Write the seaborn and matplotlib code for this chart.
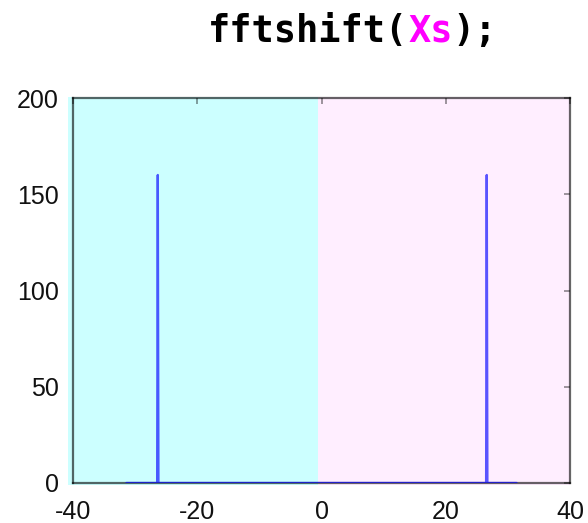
import numpy as np
import pandas as pd
import matplotlib
matplotlib.use("Agg")
import matplotlib.pyplot as plt
import seaborn as sns
from matplotlib.patches import Rectangle

# ---- data ----
freq = [-31.4, -26.45, -26.35, -26.25, 26.5, 26.6, 26.7, 31.4]
magnitude = [0, 0, 160, 0, 0, 160, 0, 0]
xticks = [-40, -20, 0, 20, 40]
yticks = [0, 50, 100, 150, 200]
title_parts = ["fftshift(", "Xs", ");"]
title_colors = ["black", "#ff00ff", "black"]

sns.set_style("white")
plt.rcParams['font.family'] = ['Liberation Sans', 'DejaVu Sans']
plt.rcParams['axes.unicode_minus'] = False

df = pd.DataFrame({"f": freq, "mag": magnitude})

fig = plt.figure(figsize=(5.88, 5.23), dpi=100)
ax = fig.add_axes([73/588, 1-483/523, (570-73)/588, (483-98)/523])

# background halves
ax.add_patch(Rectangle((-40.8, -1.2), 40.3, 201.6, facecolor="#ccffff",
                       edgecolor="none", zorder=0, clip_on=False))
ax.add_patch(Rectangle((-0.5, -1.2), 40.5, 201.6, facecolor="#ffeeff",
                       edgecolor="none", zorder=0, clip_on=False))

sns.lineplot(data=df, x="f", y="mag", sort=False, estimator=None, ax=ax,
             color="#0000ff", alpha=0.65, linewidth=1.7, zorder=3)

ax.set_xlim(-40, 40)
ax.set_ylim(0, 200)
ax.set_xticks(xticks)
ax.set_yticks(yticks)
ax.set_xlabel("")
ax.set_ylabel("")
ax.set_facecolor("none")
for s in ax.spines.values():
    s.set_visible(True)
    s.set_color((0, 0, 0, 0.6))
    s.set_linewidth(1.6)
    s.set_zorder(2)
ax.tick_params(direction="in", length=4, width=1.2, color=(0, 0, 0, 0.45),
               top=True, right=True, labelsize=18, labelcolor="#111111")
ax.tick_params(axis="x", pad=12)
ax.tick_params(axis="y", pad=10)

# title in monospace with coloured argument
fs = 26.6
adv = 0.602 * fs * 100 / 72
x0 = 208
n = 0
for part, col in zip(title_parts, title_colors):
    fig.text((x0 + n * adv) / 588, 1 - 42 / 523, part, color=col,
             family="DejaVu Sans Mono", weight="bold", fontsize=fs,
             ha="left", va="baseline")
    n += len(part)

fig.savefig("out.png", dpi=100)
